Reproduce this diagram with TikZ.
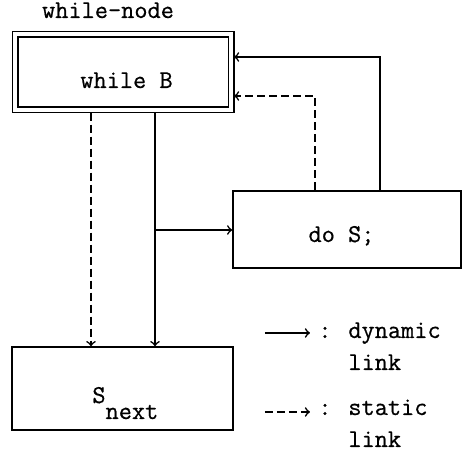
\documentclass[tikz,border=0pt]{standalone}
\usepackage{fontspec}
\newfontfamily\typefont{Latin Modern Mono}[FakeBold=0.6]
\usetikzlibrary{arrows}

\begin{document}
\begin{tikzpicture}[x=0.5pt,y=-0.5pt]
	
	\tikzset{block/.style = {shape=rectangle,draw,line width=0.8pt,inner sep=0pt}}
	\tikzset{txt/.style = {inner sep=0pt,font=\typefont\fontsize{12.8}{15}\selectfont}}
	\tikzset{dyn/.style = {->,> = to,line width=0.8pt}}
	\tikzset{stat/.style = {dyn,dash pattern=on 4pt off 2pt}}
	
	\useasboundingbox (0,0) rectangle (463,453);
	
	% boxes
	\node[block,double,double distance=2pt,outer sep=1.4pt,
	      minimum width=108pt,minimum height=37.75pt] (wnode) at (123.25,72) {};
	\node[block,minimum width=114pt,minimum height=38.75pt] (dos) at (347,229.5) {};
	\node[block,minimum width=110.5pt,minimum height=41.5pt] (snext) at (122.5,388.5) {};
	
	% texts
	\node[txt,anchor=base] (wtitle) at (108,18) {while-node};
	\node[txt,anchor=base] (wtext) at (126.5,88) {while B};
	\node[txt,anchor=base] (dostext) at (341.5,242) {do S;};
	\node[txt,anchor=base west] (snexttext) at (92,403) {S\raisebox{-8pt}{next}};
	
	% links
	\coordinate (solidx) at (155,0);
	\coordinate (dashx) at (91,0);
	\coordinate (fork) at (155,230);
	\coordinate (backtop) at (380,57);
	\coordinate (backdash) at (315,96);
	
	\draw[dyn] (wnode.south -| solidx) to (snext.north -| solidx);
	\draw[stat] (wnode.south -| dashx) to (snext.north -| dashx);
	\draw[dyn] (fork) to (dos.west |- fork);
	\draw[dyn] (dos.north -| backtop) |- (wnode.east |- backtop);
	\draw[stat] (dos.north -| backdash) |- (wnode.east |- backdash);
	
	% legend
	\coordinate (ldyn1) at (265,333);
	\coordinate (ldyn2) at (310,333);
	\coordinate (lstat1) at (265,412);
	\coordinate (lstat2) at (310,412);
	\draw[dyn] (ldyn1) to (ldyn2);
	\draw[stat] (lstat1) to (lstat2);
	\node[txt,anchor=base] (colon1) at (325,338) {:};
	\node[txt,anchor=base west] (dynword) at (348,338) {dynamic};
	\node[txt,anchor=base west] (dynlink) at (348,370) {link};
	\node[txt,anchor=base] (colon2) at (325,415) {:};
	\node[txt,anchor=base west] (statword) at (348,415) {static};
	\node[txt,anchor=base west] (statlink) at (348,447) {link};
	
\end{tikzpicture}
\end{document}
